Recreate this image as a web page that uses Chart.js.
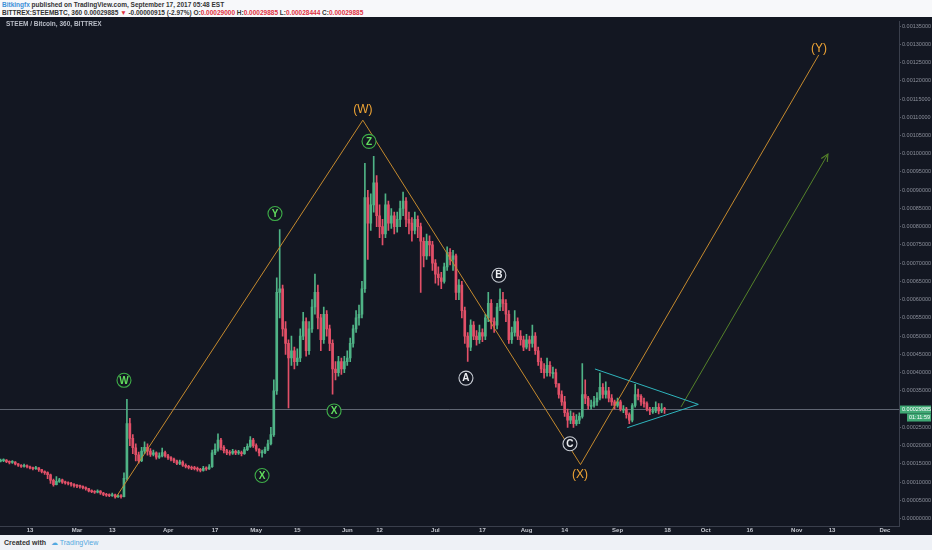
<!DOCTYPE html>
<html>
<head>
<meta charset="utf-8">
<script src="https://cdn.jsdelivr.net/npm/chart.js@4.4.0/dist/chart.umd.min.js"></script>
<style>
body{margin:0;width:932px;height:550px;background:#eef1f6;font-family:"Liberation Sans",Arial,sans-serif;position:relative;overflow:hidden}
#head{position:absolute;left:0;top:0;width:932px;height:17px;background:#f7f8fa;font-size:6.5px;color:#333;font-weight:bold}
#head div{position:absolute;left:2px;white-space:nowrap}
#l1{top:1px}
#l2{top:9px}
.blue{color:#3a8fd8}
.red{color:#e0313f}
#panel{position:absolute;left:0;top:17px;width:932px;height:518px;background:#131722}
#title{position:absolute;left:6px;top:20px;font-size:6.5px;color:#b8bcc6;font-weight:bold}
#foot{position:absolute;left:4px;top:539px;font-size:7px;color:#333;font-weight:bold}
#foot span{color:#52a8e0;font-weight:normal;margin-left:3px}
</style>
</head>
<body>
<div id="head">
  <div id="l1"><span class="blue">Bitkingfx</span> published on TradingView.com, September 17, 2017 05:48 EST</div>
  <div id="l2">BITTREX:STEEMBTC, 360 0.00029885 <span class="red">&#9660;</span> -0.00000915 (-2.97%) O:<span class="red">0.00029000</span> H:<span class="red">0.00029885</span> L:<span class="red">0.00028444</span> C:<span class="red">0.00029885</span></div>
</div>
<div id="panel"><canvas id="myChart" width="932" height="518"></canvas></div>
<div id="title">STEEM / Bitcoin, 360, BITTREX</div>
<div id="foot">Created with <span>&#9729; TradingView</span></div>
<script>
'use strict';
// prices in units of 0.00001 BTC, one candle per day, first candle = day -26 (Mar 1 = day 0)
let firstDay = -26;
let closes = [
  15.9, 16.0, 15.6, 15.4, 15.5, 15.0, 14.6, 14.3, 14.5, 14.2,
  13.9, 13.7, 13.9, 13.4, 12.9, 12.6, 12.0, 10.5, 9.3, 10.2,
  10.6, 10.0, 9.8, 9.6, 9.4, 9.0, 8.9, 8.8, 8.5, 8.2,
  7.6, 7.4, 7.2, 7.5, 7.0, 6.6, 6.4, 6.3, 6.5, 5.9,
  6.2, 6.0, 11.0, 26.0, 22.0, 19.4, 17.5, 15.9, 18.5, 19.5,
  18.5, 17.6, 18.0, 16.8, 17.2, 18.1, 17.2, 16.7, 16.3, 15.8,
  15.1, 15.5, 14.6, 14.3, 14.0, 13.8, 13.7, 13.5, 13.2, 13.8,
  13.6, 14.2, 18.0, 19.0, 21.5, 19.5, 18.6, 18.0, 17.9, 18.4,
  18.0, 18.1, 17.8, 18.9, 19.8, 21.5, 20.0, 19.0, 18.0, 18.1,
  19.0, 20.5, 23.0, 35.0, 62.0, 63.0, 52.0, 48.0, 44.0, 46.0,
  43.0, 44.0, 50.0, 54.0, 46.0, 52.0, 58.0, 62.0, 55.0, 49.0,
  56.0, 52.0, 48.0, 41.0, 40.0, 43.0, 41.0, 43.0, 44.0, 48.0,
  52.0, 55.0, 56.0, 63.0, 88.0, 81.0, 86.0, 92.0, 83.0, 80.0,
  78.0, 86.0, 81.0, 83.0, 80.0, 82.0, 85.0, 87.0, 82.0, 81.0,
  79.0, 82.0, 80.0, 76.0, 72.0, 76.0, 75.0, 70.0, 67.0, 66.0,
  65.0, 69.0, 73.0, 71.0, 72.0, 62.0, 64.0, 57.0, 50.0, 47.0,
  53.0, 50.0, 49.0, 51.0, 50.0, 55.0, 59.0, 54.0, 53.0, 58.0,
  60.0, 59.0, 56.0, 49.0, 51.0, 54.0, 50.0, 49.0, 47.0, 49.0,
  48.0, 50.0, 46.0, 43.0, 41.0, 40.0, 42.0, 40.0, 40.0, 37.0,
  34.0, 32.0, 29.0, 27.0, 28.0, 26.0, 27.0, 28.0, 34.0, 33.0,
  31.0, 31.0, 32.0, 33.0, 36.0, 34.0, 35.0, 33.0, 32.0, 31.0,
  32.0, 30.0, 30.0, 28.5, 27.0, 31.0, 34.0, 33.5, 32.0, 31.5,
  30.0, 29.5, 29.5, 30.5, 29.5, 30.0, 29.885
];
let highs = [
  16.3, 16.4, 16.2, 15.8, 15.9, 15.6, 15.1, 14.8, 14.9, 14.7,
  14.4, 14.1, 14.3, 14.0, 13.5, 13.1, 12.8, 12.2, 10.8, 11.5,
  11.0, 10.8, 10.3, 10.1, 9.9, 9.6, 9.3, 9.2, 9.0, 8.7,
  8.3, 7.9, 7.7, 7.9, 7.7, 7.2, 6.9, 6.8, 7.0, 6.7,
  6.5, 6.6, 12.5, 32.7, 27.5, 23.0, 20.5, 18.2, 19.5, 21.0,
  20.5, 19.2, 18.8, 18.3, 18.0, 19.3, 18.5, 17.6, 17.0, 16.6,
  16.0, 16.0, 15.8, 15.0, 14.6, 14.4, 14.3, 14.1, 13.8, 14.3,
  14.2, 14.8, 18.8, 20.5, 23.2, 22.0, 20.0, 19.0, 18.6, 19.0,
  18.8, 18.7, 18.5, 19.5, 20.5, 22.5, 22.0, 20.5, 19.2, 18.8,
  19.6, 21.5, 25.0, 38.0, 66.0, 79.2, 64.0, 54.0, 49.0, 50.0,
  47.0, 46.5, 52.0, 56.5, 55.0, 54.0, 60.0, 67.0, 64.0, 56.0,
  58.0, 57.0, 53.0, 49.0, 43.0, 44.5, 44.0, 44.5, 46.0, 49.5,
  53.0, 57.0, 58.5, 65.0, 97.4, 90.0, 89.0, 99.3, 94.0, 86.0,
  82.0, 89.0, 87.0, 85.0, 84.0, 84.0, 87.0, 89.5, 88.0, 84.0,
  82.5, 84.0, 83.0, 81.0, 77.0, 78.0, 77.5, 76.0, 71.0, 69.0,
  67.5, 70.0, 74.5, 74.0, 73.5, 72.5, 65.5, 65.0, 58.0, 51.0,
  54.5, 54.0, 51.5, 53.0, 52.0, 56.0, 62.0, 60.0, 55.0, 59.0,
  63.0, 62.0, 60.0, 57.0, 52.5, 57.0, 55.0, 51.5, 50.0, 50.5,
  50.0, 53.0, 51.0, 47.0, 44.0, 42.5, 44.0, 43.0, 41.5, 41.0,
  36.0, 35.0, 33.5, 30.0, 29.5, 29.0, 28.5, 29.0, 42.5, 38.0,
  33.5, 32.5, 33.5, 34.5, 39.9, 37.0, 37.5, 36.0, 34.0, 32.5,
  33.0, 32.5, 31.0, 30.5, 29.0, 31.5, 36.8, 35.5, 34.0, 33.0,
  32.0, 30.5, 30.5, 32.0, 31.5, 31.5, 30.5
];
let lows = [
  15.5, 15.6, 15.3, 15.0, 15.1, 14.7, 14.3, 14.0, 14.1, 13.9,
  13.6, 13.3, 13.5, 12.9, 12.5, 12.1, 10.9, 9.6, 8.9, 9.2,
  9.9, 9.6, 9.4, 9.2, 8.9, 8.6, 8.5, 8.3, 8.1, 7.8,
  7.3, 7.1, 6.9, 7.0, 6.6, 6.3, 6.1, 6.0, 6.1, 5.6,
  5.8, 5.6, 5.9, 10.5, 20.0, 17.8, 15.8, 15.2, 15.6, 17.8,
  17.4, 17.0, 17.2, 16.3, 16.5, 16.9, 16.8, 16.2, 15.8, 15.3,
  14.8, 14.8, 14.3, 13.9, 13.6, 13.4, 13.3, 13.0, 12.8, 13.0,
  13.2, 13.5, 14.0, 17.5, 18.5, 18.8, 18.0, 17.5, 17.4, 17.6,
  17.5, 17.6, 17.2, 17.6, 18.6, 19.5, 19.5, 18.5, 17.2, 16.8,
  17.8, 18.6, 20.2, 22.5, 34.0, 55.0, 50.0, 45.0, 30.3, 42.0,
  41.0, 42.0, 43.0, 49.0, 44.5, 45.0, 51.0, 56.0, 52.0, 46.0,
  48.0, 50.0, 46.0, 34.1, 38.0, 39.0, 39.5, 40.0, 42.0, 43.0,
  47.0, 51.0, 53.0, 55.0, 62.0, 71.0, 79.0, 84.0, 80.0, 77.0,
  75.0, 77.0, 79.0, 79.5, 78.0, 78.5, 80.0, 83.0, 80.0, 78.0,
  76.0, 78.0, 77.0, 62.0, 69.0, 71.0, 72.0, 68.0, 64.5, 64.0,
  63.0, 64.5, 68.0, 69.5, 68.0, 60.0, 60.0, 55.0, 48.0, 43.1,
  46.0, 49.0, 47.5, 48.0, 48.5, 49.0, 54.0, 52.0, 51.0, 52.0,
  57.0, 57.0, 54.0, 48.0, 48.0, 50.0, 49.0, 47.5, 46.0, 46.5,
  46.0, 47.0, 45.0, 42.0, 40.0, 38.5, 39.0, 39.0, 38.5, 36.0,
  33.0, 31.0, 28.0, 25.0, 26.0, 25.0, 25.5, 26.0, 27.5, 31.5,
  30.0, 30.0, 30.5, 31.0, 32.5, 33.0, 33.0, 32.0, 31.0, 30.0,
  30.5, 29.5, 29.0, 27.5, 26.0, 26.5, 30.5, 32.5, 31.0, 30.5,
  29.5, 28.5, 28.8, 29.0, 28.7, 29.0, 28.8
];
let firstOpen = 15.7;
let lastPrice = 29.885;

// axis ticks
let priceTicks = [0, 5, 10, 15, 20, 25, 30, 35, 40, 45, 50, 55, 60, 65, 70, 75, 80, 85, 90, 95, 100, 105, 110, 115, 120, 125, 130, 135];
let dateTicks = [-16, 0, 12, 31, 47, 61, 75, 92, 103, 122, 138, 153, 166, 184, 201, 214, 229, 245, 257, 275];
let dateLabels = ['13', 'Mar', '13', 'Apr', '17', 'May', '15', 'Jun', '12', 'Jul', '17', 'Aug', '14', 'Sep', '18', 'Oct', '16', 'Nov', '13', 'Dec'];

// drawings (day, price)
let waveDays = [13.3, 97.3, 171.4, 252.5];
let wavePrices = [5.84, 109.2, 14.8, 127.1];
let triUpperDays = [176.3, 211.5];
let triUpperPrices = [41.0, 31.3];
let triLowerDays = [187.3, 211.5];
let triLowerPrices = [24.9, 31.3];
let arrowDays = [205.6, 255.6];
let arrowPrices = [30.6, 99.9];

let greenLabels = ['W', 'X', 'Y', 'X', 'Z'];
let greenDays = [16.0, 63.0, 67.4, 87.5, 99.4];
let greenPrices = [37.9, 11.8, 83.6, 29.5, 103.4];
let whiteLabels = ['A', 'B', 'C'];
let whiteDays = [132.4, 143.6, 167.8];
let whitePrices = [38.5, 66.7, 20.5];
let orangeLabels = ['(W)', '(X)', '(Y)'];
let orangeDays = [97.3, 171.2, 252.6];
let orangePrices = [112.1, 12.1, 128.9];

let upColor = '#4fb386';
let downColor = '#e25068';
let arrowColor = '#55822a';

let opens = [];
let wicks = [];
let bodies = [];
for (let i = 0; i < closes.length; i++) {
    opens.push(i === 0 ? firstOpen : closes[i - 1]);
    wicks.push({x: firstDay + i, y: [lows[i], highs[i]]});
    bodies.push({x: firstDay + i, y: [opens[i], closes[i]]});
}
function candleColor(ctx) {
    let i = ctx.dataIndex;
    return closes[i] >= opens[i] ? upColor : downColor;
}
function toPoints(days, prices) {
    return days.map((d, i) => ({x: d, y: prices[i]}));
}

let drawings = {
    id: 'drawings',
    beforeDatasetsDraw(chart) {
        let c = chart.ctx, ys = chart.scales.y, a = chart.chartArea;
        let py = ys.getPixelForValue(lastPrice);
        c.save();
        c.strokeStyle = 'rgba(160,168,182,0.55)';
        c.lineWidth = 1;
        c.beginPath();
        c.moveTo(a.left, py);
        c.lineTo(a.right, py);
        c.stroke();
        c.restore();
    },
    afterDatasetsDraw(chart) {
        let c = chart.ctx, xs = chart.scales.x, ys = chart.scales.y;
        c.save();
        // arrow head
        let x0 = xs.getPixelForValue(arrowDays[0]), y0 = ys.getPixelForValue(arrowPrices[0]);
        let x1 = xs.getPixelForValue(arrowDays[1]), y1 = ys.getPixelForValue(arrowPrices[1]);
        let ang = Math.atan2(y1 - y0, x1 - x0);
        c.strokeStyle = arrowColor;
        c.lineWidth = 1.1;
        c.beginPath();
        c.moveTo(x1 - 8 * Math.cos(ang - 0.45), y1 - 8 * Math.sin(ang - 0.45));
        c.lineTo(x1, y1);
        c.lineTo(x1 - 8 * Math.cos(ang + 0.45), y1 - 8 * Math.sin(ang + 0.45));
        c.stroke();

        c.textAlign = 'center';
        c.textBaseline = 'middle';
        function circ(label, d, p, stroke, text) {
            let x = xs.getPixelForValue(d), y = ys.getPixelForValue(p);
            c.beginPath();
            c.arc(x, y, 7, 0, Math.PI * 2);
            c.fillStyle = '#131722';
            c.fill();
            c.lineWidth = 1.1;
            c.strokeStyle = stroke;
            c.stroke();
            c.fillStyle = text;
            c.font = 'bold 10px "Liberation Sans", Arial, sans-serif';
            c.fillText(label, x, y + 0.5);
        }
        for (let i = 0; i < greenLabels.length; i++) {
            circ(greenLabels[i], greenDays[i], greenPrices[i], '#3fae49', '#62de5e');
        }
        for (let i = 0; i < whiteLabels.length; i++) {
            circ(whiteLabels[i], whiteDays[i], whitePrices[i], '#c8ccd4', '#eceef2');
        }
        c.font = '12px "Liberation Sans", Arial, sans-serif';
        c.fillStyle = '#f0a535';
        for (let i = 0; i < orangeLabels.length; i++) {
            c.fillText(orangeLabels[i], xs.getPixelForValue(orangeDays[i]), ys.getPixelForValue(orangePrices[i]));
        }
        c.restore();
    },
    afterDraw(chart) {
        let c = chart.ctx, ys = chart.scales.y, a = chart.chartArea;
        let py = ys.getPixelForValue(lastPrice);
        c.save();
        c.fillStyle = '#3fa874';
        c.fillRect(a.right + 1, py - 4, 31, 8);
        c.fillRect(a.right + 8, py + 4, 24, 8);
        c.fillStyle = '#ffffff';
        c.font = '5.5px "Liberation Sans", Arial, sans-serif';
        c.textBaseline = 'middle';
        c.textAlign = 'left';
        c.fillText((lastPrice / 100000).toFixed(8), a.right + 3, py);
        c.fillText('01:11:59', a.right + 10, py + 8);
        c.restore();
    }
};

let ctx = document.getElementById('myChart').getContext('2d');
let chart = new Chart(ctx, {
    data: {
        datasets: [
            {
                type: 'bar', data: wicks, grouped: false, order: 3,
                barThickness: 1, backgroundColor: candleColor
            },
            {
                type: 'bar', data: bodies, grouped: false, order: 2,
                barThickness: 2, minBarLength: 1, backgroundColor: candleColor
            },
            {
                type: 'line', data: toPoints(waveDays, wavePrices), order: 1,
                borderColor: '#c58a2e', borderWidth: 1, pointRadius: 0
            },
            {
                type: 'line', data: toPoints(triUpperDays, triUpperPrices), order: 1,
                borderColor: '#2fb5bd', borderWidth: 1, pointRadius: 0
            },
            {
                type: 'line', data: toPoints(triLowerDays, triLowerPrices), order: 1,
                borderColor: '#2fb5bd', borderWidth: 1, pointRadius: 0
            },
            {
                type: 'line', data: toPoints(arrowDays, arrowPrices), order: 1,
                borderColor: arrowColor, borderWidth: 1, pointRadius: 0
            }
        ]
    },
    options: {
        responsive: false,
        animation: false,
        layout: {padding: 0},
        plugins: {legend: {display: false}, tooltip: {enabled: false}},
        scales: {
            x: {
                type: 'linear',
                offset: false,
                min: -26.2,
                max: 279.8,
                afterFit(scale) { scale.height = 9; },
                afterBuildTicks(scale) { scale.ticks = dateTicks.map(v => ({value: v})); },
                ticks: {
                    autoSkip: false,
                    maxRotation: 0,
                    padding: 1,
                    color: '#c3c6ce',
                    font: {size: 6, weight: 'bold', family: '"Liberation Sans", Arial, sans-serif'},
                    callback: (v, i) => dateLabels[i]
                },
                grid: {display: false, drawTicks: false, tickLength: 0},
                border: {color: '#3a3f4c'}
            },
            y: {
                position: 'right',
                min: -2.04,
                max: 136.3,
                afterFit(scale) { scale.width = 33; },
                afterBuildTicks(scale) { scale.ticks = priceTicks.map(v => ({value: v})); },
                ticks: {
                    padding: 1,
                    color: '#8b8f9a',
                    font: {size: 5.5, family: '"Liberation Sans", Arial, sans-serif'},
                    callback: v => (v / 100000).toFixed(8)
                },
                grid: {drawOnChartArea: false, tickLength: 2, color: '#555a66'},
                border: {color: '#3a3f4c'}
            }
        }
    },
    plugins: [drawings]
});
</script>
</body>
</html>
